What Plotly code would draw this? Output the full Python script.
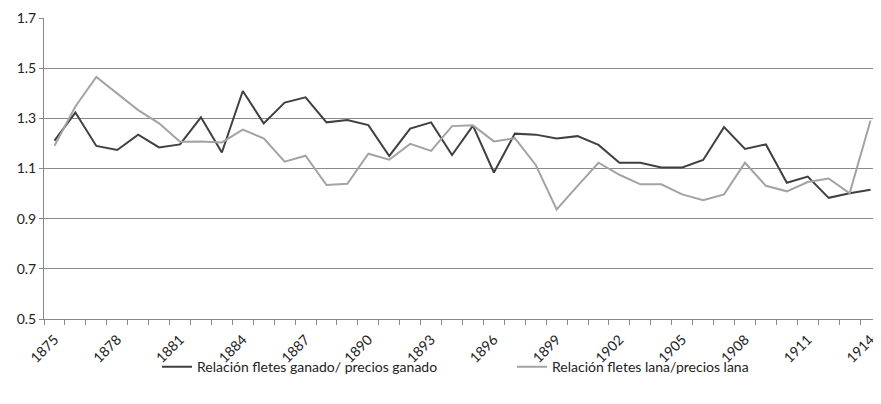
import plotly.graph_objects as go

years = list(range(1875, 1915))
ganado = [1.211, 1.323, 1.190, 1.174, 1.235, 1.184, 1.196, 1.304, 1.164, 1.409,
          1.280, 1.363, 1.384, 1.284, 1.293, 1.273, 1.150, 1.259, 1.284, 1.154,
          1.271, 1.084, 1.239, 1.235, 1.220, 1.229, 1.194, 1.123, 1.123, 1.104,
          1.104, 1.134, 1.265, 1.178, 1.196, 1.043, 1.068, 0.983, 1.001, 1.015]
lana = [1.191, 1.347, 1.465, 1.400, 1.333, 1.280, 1.207, 1.208, 1.204, 1.255,
        1.220, 1.127, 1.151, 1.034, 1.039, 1.159, 1.135, 1.198, 1.170, 1.269,
        1.272, 1.208, 1.221, 1.114, 0.937, 1.031, 1.123, 1.075, 1.037, 1.037,
        0.997, 0.974, 0.997, 1.123, 1.031, 1.009, 1.046, 1.060, 1.001, 1.291]
label_years = list(range(1875, 1915, 3))
y_ticks = [0.5, 0.7, 0.9, 1.1, 1.3, 1.5, 1.7]

FONT = "Lato"

fig = go.Figure()
fig.add_trace(go.Scatter(x=years, y=ganado, mode="lines",
                         name="Relación fletes ganado/ precios ganado",
                         line=dict(color="#404040", width=2)))
fig.add_trace(go.Scatter(x=years, y=lana, mode="lines",
                         name="Relación fletes lana/precios lana",
                         line=dict(color="#a3a3a3", width=2)))

fig.update_layout(
    width=873, height=396,
    margin=dict(l=36, r=0, t=10, b=85, autoexpand=False),
    plot_bgcolor="white", paper_bgcolor="white",
    font=dict(family=FONT, size=14, color="#222222"),
    showlegend=True,
    legend=dict(orientation="h", x=0.135, y=-0.16, xanchor="left", yanchor="middle",
                font=dict(size=14), entrywidth=310, entrywidthmode="pixels",
                bgcolor="rgba(0,0,0,0)"),
    xaxis=dict(range=[1874.5, 1914.5], tickmode="array", tickvals=label_years,
               ticktext=[str(y) for y in label_years], tickangle=-45,
               tickfont=dict(size=14), ticklabelstandoff=6,
               ticks="", showgrid=False, showline=True, linecolor="#888888",
               linewidth=1, zeroline=False, automargin=False,
               minor=dict(ticks="outside", tick0=1874.5, dtick=1, ticklen=5,
                          tickcolor="#888888", showgrid=False)),
    yaxis=dict(range=[0.5, 1.7], tickmode="array", tickvals=y_ticks,
               ticktext=[f"{v:.1f}" for v in y_ticks],
               showgrid=True, gridcolor="#8a8a8a", gridwidth=1,
               showline=True, linecolor="#888888", linewidth=1,
               ticks="outside", ticklen=4, tickcolor="#888888",
               zeroline=False, automargin=False),
)

fig.write_html("out.html")
